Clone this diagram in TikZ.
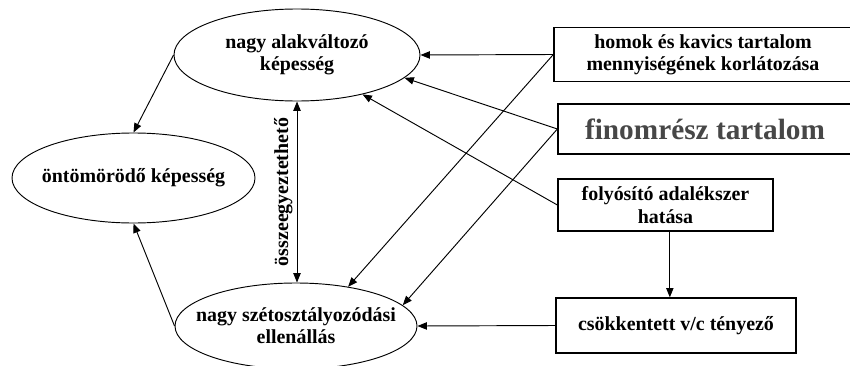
\documentclass[tikz,border=0pt]{standalone}
\usepackage{fontspec}
\setmainfont{Liberation Serif}
\usetikzlibrary{arrows.meta}
\usetikzlibrary{shapes.geometric}

\begin{document}
\begin{tikzpicture}[x=0.03cm,y=-0.03cm,
  txt/.style={font=\fontsize{17}{19}\selectfont\bfseries,align=center},
  oval/.style={ellipse,draw,line width=0.8pt,inner sep=0pt},
  box/.style={rectangle,draw,line width=1.1pt,inner sep=0pt,txt},
  arr/.style={line width=0.8pt,-{Triangle[length=0.28cm,width=0.22cm]}}]
\useasboundingbox (0,0) rectangle (850,365);

% ellipses
\node[oval,minimum width=7.38cm,minimum height=2.76cm,label={[txt]center:{nagy alakváltozó\\képesség}}] (alak) at (297,55) {};
\node[oval,minimum width=7.29cm,minimum height=2.7cm,label={[txt]center:{öntömörödő képesség}}] (ontom) at (133.5,178) {};
\node[oval,minimum width=7.26cm,minimum height=2.58cm,label={[txt]center:{nagy szétosztályozódási\\ellenállás}}] (szet) at (296,326) {};

% boxes
\node[box,minimum width=8.94cm,minimum height=1.62cm] (homok) at (703,54.5) {homok és kavics tartalom\\mennyiségének korlátozása};
\node[box,minimum width=8.82cm,minimum height=1.5cm,font=\fontsize{25}{28}\selectfont\bfseries,text=black!72] (finom) at (705,129) {finomrész tartalom};
\node[box,minimum width=6.45cm,minimum height=1.56cm] (folyo) at (665.5,205) {folyósító adalékszer\\hatása};
\node[box,minimum width=7.2cm,minimum height=1.65cm] (vc) at (676,325.5) {csökkentett v/c tényező};

% arrows
\draw[arr] (homok.west) -- (alak.east);
\draw[arr] (finom.west) -- (alak.-12);
\draw[arr] (folyo.west) -- (alak.-31);
\draw[arr] (homok.west) -- (szet.37);
\draw[arr] (finom.west) -- (szet.11);
\draw[arr] (vc.west) -- (szet.east);
\draw[arr] ([xshift=0.13cm]folyo.south) -- ([xshift=0.13cm]folyo.south |- vc.north);
\draw[arr] (alak.west) -- (ontom.north);
\draw[arr] (szet.west) -- (ontom.south);
\draw[arr,{Triangle[length=0.28cm,width=0.22cm]}-{Triangle[length=0.28cm,width=0.22cm]}] (alak.south) -- node[txt,rotate=90,anchor=south] (egyez) {összeegyeztethető} (alak.south |- szet.north);

\end{tikzpicture}
\end{document}
